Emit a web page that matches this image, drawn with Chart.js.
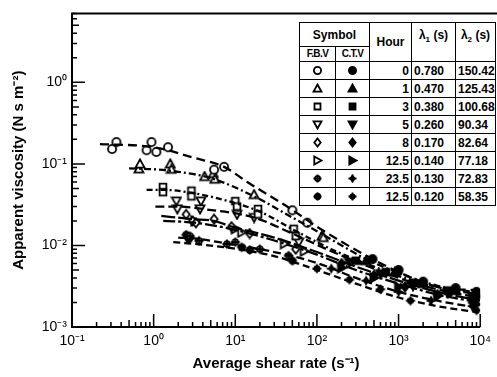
<!DOCTYPE html>
<html>
<head>
<meta charset="utf-8">
<script src="https://cdn.jsdelivr.net/npm/chart.js@4.4.1/dist/chart.umd.min.js"></script>
<style>
  body { margin: 0; background: #fff; }
  #wrap { position: relative; width: 497px; height: 377px; }
  #legend {
    position: absolute; left: 299px; top: 22px; width: 196px;
    border-collapse: collapse; table-layout: fixed; background: #fff;
    font: bold 12px "Liberation Sans", Arial, sans-serif; color: #000;
  }
  #legend td { border: 1.5px solid #000; padding: 0 2px; height: 17px; line-height: 14px; white-space: nowrap; }
  #legend .sym { text-align: center; padding: 0; }
  #legend .sym canvas { display: block; margin: 0 auto; }
  #legend .hr { text-align: right; }
  #legend .sub { font-size: 10px; letter-spacing: -0.6px; text-align: center; padding: 0; height: 13px; }
  #legend .hd { text-align: center; padding: 0; }
</style>
</head>
<body>
<div id="wrap">
  <canvas id="chart" width="497" height="377"></canvas>
  <table id="legend"></table>
</div>
<script>
// table values
const hours = ['0', '1', '3', '5', '8', '12.5', '23.5', '12.5'];
const lambda1 = ['0.780', '0.470', '0.380', '0.260', '0.170', '0.140', '0.130', '0.120'];
const lambda2 = ['150.42', '125.43', '100.68', '90.34', '82.64', '77.18', '72.83', '58.35'];

// axes
const xTicks = [0.1, 1, 10, 100, 1000, 10000];
const xTickLabels = ['10⁻¹', '10⁰', '10¹', '10²', '10³', '10⁴'];
const yTicks = [0.001, 0.01, 0.1, 1];
const yTickLabels = ['10⁻³', '10⁻²', '10⁻¹', '10⁰'];

// fitted curves
const fit0x = [0.22, 1, 3, 7.3, 14, 48, 100, 400, 1300, 3000, 10000];
const fit0y = [0.175, 0.16, 0.12, 0.092, 0.06, 0.028, 0.017, 0.0075, 0.0042, 0.0031, 0.0028];
const fit1x = [0.5, 1, 2, 5, 17, 50, 120, 400, 1000, 3000, 10000];
const fit1y = [0.088, 0.086, 0.08, 0.067, 0.04, 0.022, 0.0135, 0.0068, 0.0046, 0.0032, 0.0026];
const fit2x = [0.82, 1.3, 3, 10, 20, 52, 150, 500, 1500, 4000, 10000];
const fit2y = [0.048, 0.048, 0.044, 0.033, 0.026, 0.0155, 0.009, 0.0055, 0.0037, 0.0029, 0.0025];
const fit3x = [1.05, 2, 4, 17, 50, 150, 500, 1500, 4000, 10000];
const fit3y = [0.030, 0.030, 0.028, 0.022, 0.014, 0.0085, 0.0052, 0.0035, 0.0027, 0.0023];
const fit4x = [1.24, 3, 5.5, 9, 30, 100, 300, 1000, 3000, 10000];
const fit4y = [0.023, 0.021, 0.020, 0.017, 0.0125, 0.0083, 0.0055, 0.0037, 0.0027, 0.0021];
const fit5x = [1.31, 3.2, 10, 30, 100, 300, 1000, 3000, 10000];
const fit5y = [0.020, 0.019, 0.0155, 0.0115, 0.0077, 0.005, 0.0034, 0.0025, 0.002];
const fit6x = [2, 3.6, 8, 30, 100, 300, 1000, 3000, 10000];
const fit6y = [0.0125, 0.012, 0.0105, 0.0083, 0.0061, 0.004, 0.0027, 0.0021, 0.0017];
const fit7x = [1.74, 4, 10, 30, 100, 300, 1000, 3000, 10000];
const fit7y = [0.011, 0.0102, 0.0091, 0.0074, 0.005, 0.0034, 0.0023, 0.0018, 0.0015];

// measured points: F.B.V (open) and C.T.V (filled), [shear rate, viscosity]
const fbv0 = [[0.31, 0.152], [0.35, 0.185], [0.82, 0.147], [0.94, 0.185], [1.08, 0.14], [1.5, 0.16], [5.5, 0.085], [7.3, 0.092], [50, 0.027], [76, 0.019]];
const fbv1 = [[0.66, 0.087], [0.68, 0.1], [1.6, 0.1], [1.65, 0.086], [4.2, 0.07], [5.4, 0.076], [5.6, 0.065], [17, 0.042], [115, 0.013], [120, 0.0125]];
const fbv2 = [[1.3, 0.052], [1.3, 0.045], [2.9, 0.047], [2.9, 0.04], [10, 0.035], [10.5, 0.03], [19, 0.028], [19, 0.024], [52, 0.016], [55, 0.013]];
const fbv3 = [[1.9, 0.035], [1.95, 0.028], [3.8, 0.035], [3.7, 0.028], [10.5, 0.024], [17, 0.022], [60, 0.011]];
const fbv4 = [[2.5, 0.024], [3.0, 0.02], [3.3, 0.019], [5.5, 0.021], [9, 0.017], [15, 0.014], [55, 0.009]];
const fbv5 = [[3.2, 0.02], [10, 0.016], [12, 0.0145], [40, 0.0105], [70, 0.0085]];
const fbv6 = [[2.8, 0.013], [3.6, 0.0114], [7.9, 0.0104], [10, 0.011], [20, 0.009], [45, 0.0075]];
const fbv7 = [[2.5, 0.0135], [2.7, 0.012], [12, 0.0095], [15, 0.0088], [50, 0.0065]];
const ctv0 = [[480, 0.0068], [1000, 0.005], [2000, 0.0036], [5000, 0.003], [9000, 0.0027]];
const ctv1 = [[400, 0.0065], [900, 0.0047], [2000, 0.0034], [5000, 0.0028], [9000, 0.0025]];
const ctv2 = [[300, 0.0065], [700, 0.0047], [1500, 0.0035], [4000, 0.0028], [8000, 0.0024]];
const ctv3 = [[250, 0.0062], [600, 0.0045], [1500, 0.0032], [4000, 0.0026], [9000, 0.0022]];
const ctv4 = [[200, 0.006], [500, 0.0043], [1200, 0.0031], [3000, 0.0025], [8000, 0.002]];
const ctv5 = [[200, 0.0053], [500, 0.004], [1000, 0.0031], [3000, 0.0024], [9000, 0.0019]];
const ctv6 = [[150, 0.0052], [400, 0.0037], [1000, 0.0027], [2500, 0.0021], [8000, 0.0018]];
const ctv7 = [[100, 0.0052], [250, 0.0038], [600, 0.0029], [1400, 0.0021], [9000, 0.0016]];

const fitX = [fit0x, fit1x, fit2x, fit3x, fit4x, fit5x, fit6x, fit7x];
const fitY = [fit0y, fit1y, fit2y, fit3y, fit4y, fit5y, fit6y, fit7y];
const fbvPts = [fbv0, fbv1, fbv2, fbv3, fbv4, fbv5, fbv6, fbv7];
const ctvPts = [ctv0, ctv1, ctv2, ctv3, ctv4, ctv5, ctv6, ctv7];

const shapes = ['circle', 'triangle', 'square', 'down', 'diamond', 'right', 'circlePlus', 'bigPlus'];
const ctvShapes = ['circle', 'triangle', 'square', 'down', 'diamond', 'right', 'diamondPlus', 'smallPlus'];
const dashes = [[9, 5], [7, 3, 2, 3], [6, 3, 2, 3], [9, 4], [14, 3], [12, 3, 3, 3], [8, 4], [7, 4]];

function makeMarker(kind, filled, s) {
  const c = document.createElement('canvas');
  c.width = c.height = s;
  const ctx = c.getContext('2d');
  const m = s / 2, r = s / 2 - 1.5;
  ctx.lineWidth = 1.8;
  ctx.strokeStyle = '#000';
  ctx.fillStyle = filled ? '#000' : '#fff';
  ctx.beginPath();
  if (kind === 'circle') ctx.arc(m, m, r * 0.9, 0, Math.PI * 2);
  else if (kind === 'triangle') { ctx.moveTo(m, m - r); ctx.lineTo(m + r, m + r * 0.8); ctx.lineTo(m - r, m + r * 0.8); ctx.closePath(); }
  else if (kind === 'down') { ctx.moveTo(m, m + r); ctx.lineTo(m + r, m - r * 0.8); ctx.lineTo(m - r, m - r * 0.8); ctx.closePath(); }
  else if (kind === 'right') { ctx.moveTo(m + r, m); ctx.lineTo(m - r * 0.8, m - r); ctx.lineTo(m - r * 0.8, m + r); ctx.closePath(); }
  else if (kind === 'square') ctx.rect(m - r * 0.75, m - r * 0.75, r * 1.5, r * 1.5);
  else if (kind === 'diamond' || kind === 'diamondPlus') { const q = kind === 'diamond' ? r : r * 0.7; ctx.moveTo(m, m - q); ctx.lineTo(m + q * 0.8, m); ctx.lineTo(m, m + q); ctx.lineTo(m - q * 0.8, m); ctx.closePath(); }
  else if (kind === 'circlePlus') ctx.arc(m, m, r * 0.65, 0, Math.PI * 2);
  else if (kind === 'bigPlus') { ctx.fillStyle = '#000'; ctx.arc(m, m, r * 0.7, 0, Math.PI * 2); }
  else if (kind === 'smallPlus') { ctx.fillStyle = '#000'; ctx.arc(m, m, r * 0.55, 0, Math.PI * 2); }
  ctx.fill();
  ctx.stroke();
  if (kind.indexOf('Plus') >= 0) {
    ctx.beginPath();
    ctx.moveTo(m, m - r); ctx.lineTo(m, m + r);
    ctx.moveTo(m - r, m); ctx.lineTo(m + r, m);
    ctx.stroke();
  }
  return c;
}

// legend table
const table = document.getElementById('legend');
table.innerHTML =
  '<colgroup><col style="width:36px"><col style="width:34px"><col style="width:42px"><col style="width:44px"><col style="width:40px"></colgroup>' +
  '<tr><td colspan="2" class="hd" style="height:23px">Symbol</td><td rowspan="2" class="hd">Hour</td>' +
  '<td rowspan="2" class="hd" style="vertical-align:top;padding-top:5px">λ<sub style="font-size:8px">1</sub> (s)</td>' +
  '<td rowspan="2" class="hd" style="vertical-align:top;padding-top:5px">λ<sub style="font-size:8px">2</sub> (s)</td></tr>' +
  '<tr><td class="sub">F.B.V</td><td class="sub">C.T.V</td></tr>';
hours.forEach((h, i) => {
  const tr = document.createElement('tr');
  const a = document.createElement('td'); a.className = 'sym'; a.appendChild(makeMarker(shapes[i], false, 11));
  const b = document.createElement('td'); b.className = 'sym'; b.appendChild(makeMarker(ctvShapes[i], true, 11));
  tr.appendChild(a); tr.appendChild(b);
  [h, lambda1[i], lambda2[i]].forEach((t, k) => {
    const td = document.createElement('td');
    td.textContent = t;
    if (k === 0) td.className = 'hr';
    tr.appendChild(td);
  });
  table.appendChild(tr);
});

const datasets = [];
fitX.forEach((xs, i) => {
  datasets.push({
    data: xs.map((x, k) => ({x: x, y: fitY[i][k]})),
    showLine: true, pointRadius: 0, borderColor: '#000', borderWidth: 2.3,
    borderDash: dashes[i], cubicInterpolationMode: 'monotone', fill: false
  });
});
fbvPts.forEach((pts, i) => {
  datasets.push({
    data: pts.map(p => ({x: p[0], y: p[1]})),
    pointStyle: makeMarker(shapes[i], false, 12), pointRadius: 6
  });
});
ctvPts.forEach((pts, i) => {
  datasets.push({
    data: pts.map(p => ({x: p[0], y: p[1]})),
    pointStyle: makeMarker(ctvShapes[i], true, 12), pointRadius: 6
  });
});

// frame and inward log ticks
const frameTicks = {
  id: 'frameTicks',
  afterDraw(chart) {
    const {ctx, chartArea: a, scales} = chart;
    ctx.save();
    ctx.strokeStyle = '#000';
    ctx.lineWidth = 2;
    ctx.beginPath();
    ctx.moveTo(497, a.top); ctx.lineTo(a.left, a.top); ctx.lineTo(a.left, a.bottom); ctx.lineTo(a.right, a.bottom);
    ctx.stroke();
    ctx.lineWidth = 1.5;
    ctx.beginPath();
    [0.1, 1, 10, 100, 1000].forEach(d => {
      for (let k = 1; k <= 10; k++) {
        const v = d * k;
        if (v > 10000) break;
        const px = scales.x.getPixelForValue(v);
        const len = (k === 1 || k === 10) ? 13 : (k === 5 ? 7 : 5);
        ctx.moveTo(px, a.bottom); ctx.lineTo(px, a.bottom - len);
      }
    });
    [0.001, 0.01, 0.1, 1].forEach(d => {
      for (let k = 1; k <= 9; k++) {
        const v = d * k;
        if (v > 7) break;
        const py = scales.y.getPixelForValue(v);
        const len = k === 1 ? 13 : (k === 5 ? 7 : 5);
        ctx.moveTo(a.left, py); ctx.lineTo(a.left + len, py);
      }
    });
    ctx.stroke();
    ctx.restore();
  }
};

const tickFont = {family: 'Liberation Sans', size: 14};
const titleFont = {family: 'Liberation Sans', size: 15, weight: 'bold'};

new Chart(document.getElementById('chart'), {
  type: 'scatter',
  data: {datasets: datasets},
  plugins: [frameTicks],
  options: {
    responsive: false,
    animation: false,
    events: [],
    layout: {padding: {left: 0, right: 9, top: 10, bottom: 0}},
    plugins: {legend: {display: false}, tooltip: {enabled: false}},
    scales: {
      x: {
        type: 'logarithmic', min: 0.1, max: 10000,
        afterBuildTicks: s => { s.ticks = xTicks.map(v => ({value: v})); },
        afterFit: s => { s.height = 50; },
        ticks: {color: '#000', font: tickFont, padding: 6, autoSkip: false, maxRotation: 0,
                callback: v => xTickLabels[xTicks.indexOf(v)]},
        grid: {display: false, drawTicks: false},
        border: {display: false},
        title: {display: true, text: 'Average shear rate (s⁻¹)', color: '#000', font: titleFont, padding: {top: 0, bottom: 4}}
      },
      y: {
        type: 'logarithmic', min: 0.001, max: 7,
        afterBuildTicks: s => { s.ticks = yTicks.map(v => ({value: v})); },
        afterFit: s => { s.width = 72; },
        ticks: {color: '#000', font: tickFont, padding: 5, autoSkip: false,
                callback: v => yTickLabels[yTicks.indexOf(v)]},
        grid: {display: false, drawTicks: false},
        border: {display: false},
        title: {display: true, text: 'Apparent viscosity (N s m⁻²)', color: '#000', font: titleFont, padding: {top: 10, bottom: 0}}
      }
    }
  }
});
</script>
</body>
</html>
